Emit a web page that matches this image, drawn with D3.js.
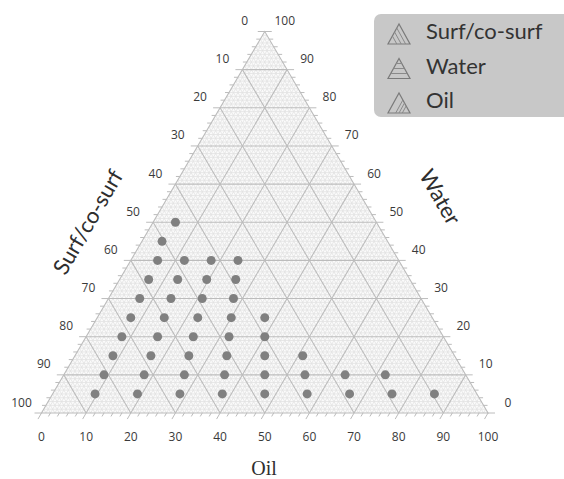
<!DOCTYPE html>
<html>
<head>
<meta charset="utf-8">
<style>
  body { margin: 0; padding: 0; background: #ffffff; }
  svg { display: block; }
  .tick-label { font-family: 'Open Sans', sans-serif; font-size: 12px; fill: #3a3a3a; text-anchor: middle; }
  .axis-title { font-family: Lato, sans-serif; font-size: 22px; fill: #2e2e2e; }
  .legend text { font-family: Lato, sans-serif; font-size: 22px; fill: #333333; }
</style>
</head>
<body>
<div id="chart"></div>
<script src="https://d3js.org/d3.v7.min.js"></script>
<script>

// measured points, one entry per dot (percent)
var waterValues = [5, 5, 5, 5, 5, 5, 5, 5, 5,
                   10, 10, 10, 10, 10, 10, 10, 10,
                   15, 15, 15, 15, 15, 15,
                   20, 20, 20, 20, 20,
                   25, 25, 25, 25, 25,
                   30, 30, 30, 30,
                   35, 35, 35, 35,
                   40, 40, 40, 40,
                   45,
                   50]
var oilValues = [9.5, 19, 28.5, 38, 47.5, 57, 66.5, 76, 85.5,
                 9, 18, 27, 36, 45, 54, 63, 72,
                 8.5, 17, 25.5, 34, 42.5, 51,
                 8, 16, 24, 32, 40,
                 7.5, 15, 22.5, 30, 37.5,
                 7, 14, 21, 28,
                 6.5, 13, 19.5, 26,
                 6, 12, 18, 24,
                 4.5,
                 5]
var surfValues = [85.5, 76, 66.5, 57, 47.5, 38, 28.5, 19, 9.5,
                  81, 72, 63, 54, 45, 36, 27, 18,
                  76.5, 68, 59.5, 51, 42.5, 34,
                  72, 64, 56, 48, 40,
                  67.5, 60, 52.5, 45, 37.5,
                  63, 56, 49, 42,
                  58.5, 52, 45.5, 39,
                  54, 48, 42, 36,
                  50.5,
                  45]

var tickValues = [0, 10, 20, 30, 40, 50, 60, 70, 80, 90, 100]
var axisTitles = ["Surf/co-surf", "Water", "Oil"]
var legendLabels = ["Surf/co-surf", "Water", "Oil"]

var width = 564,
    height = 479

// horizontal position uses oil + water/2, vertical uses water
var xScale = d3.scaleLinear().domain([0, 100]).range([41.5, 488])
var yScale = d3.scaleLinear().domain([0, 100]).range([413, 31.5])

// point from (water, oil)
function pt(water, oil) {
  return [xScale(oil + water / 2), yScale(water)]
}

var svg = d3.select("#chart").append("svg")
  .attr("width", width)
  .attr("height", height)

var line = d3.line()

// triangle background
svg.append("path")
  .attr("d", line([pt(0, 0), pt(100, 0), pt(0, 100)]) + "Z")
  .attr("fill", "#fbfbfb")

// grid lines, minor every 1, major every 10
var minor = svg.append("g").attr("stroke", "#e2e2e2").attr("stroke-width", 0.8).attr("fill", "none")
var major = svg.append("g").attr("stroke", "#bcbcbc").attr("stroke-width", 1.1).attr("fill", "none")

d3.range(1, 100).forEach(function (k) {
  var g = (k % 10 === 0) ? major : minor
  // constant water
  g.append("path").attr("d", line([pt(k, 0), pt(k, 100 - k)]))
  // constant oil
  g.append("path").attr("d", line([pt(0, k), pt(100 - k, k)]))
  // constant surf
  g.append("path").attr("d", line([pt(0, 100 - k), pt(100 - k, 0)]))
})

// outline
svg.append("path")
  .attr("d", line([pt(0, 0), pt(0, 100), pt(100, 0)]) + "Z")
  .attr("fill", "none")
  .attr("stroke", "#bcbcbc")
  .attr("stroke-width", 1.1)

// ticks every 2
var ticks = svg.append("g").attr("stroke", "#bcbcbc").attr("stroke-width", 1)
d3.range(0, 101, 2).forEach(function (k) {
  var len = (k % 10 === 0) ? 7 : 4
  // left edge (horizontal, outward left)
  var a = pt(k, 0)
  ticks.append("path").attr("d", line([a, [a[0] - len, a[1]]]))
  // right edge (horizontal, outward right)
  var b = pt(k, 100 - k)
  ticks.append("path").attr("d", line([b, [b[0] + len, b[1]]]))
  // base (down-left)
  var c = pt(0, k)
  ticks.append("path").attr("d", line([c, [c[0] - len * 0.5, c[1] + len * 0.866]]))
})

// tick labels
var labels = svg.append("g").attr("class", "tick-label")

// bottom: oil
labels.selectAll(".oil").data(tickValues).enter().append("text")
  .attr("x", function (d) { return pt(0, d)[0] })
  .attr("y", 441)
  .text(function (d) { return d })

// left: surf (surf = 100 - water on the left edge)
labels.selectAll(".surf").data(tickValues).enter().append("text")
  .attr("x", function (d) { return pt(100 - d, 0)[0] - 20 })
  .attr("y", function (d) { return pt(100 - d, 0)[1] - 6.5 })
  .text(function (d) { return d })

// right: water
labels.selectAll(".water").data(tickValues).enter().append("text")
  .attr("x", function (d) { return pt(d, 100 - d)[0] + 20 })
  .attr("y", function (d) { return pt(d, 100 - d)[1] - 6.5 })
  .text(function (d) { return d })

// axis titles
svg.append("text")
  .attr("class", "axis-title")
  .attr("transform", "translate(88,222) rotate(-60)")
  .attr("text-anchor", "middle")
  .attr("dy", "0.35em")
  .text(axisTitles[0])

svg.append("text")
  .attr("class", "axis-title")
  .attr("transform", "translate(440,197) rotate(60)")
  .attr("text-anchor", "middle")
  .attr("dy", "0.35em")
  .text(axisTitles[1])

svg.append("text")
  .attr("x", 264)
  .attr("y", 475)
  .attr("text-anchor", "middle")
  .style("font-family", "'Liberation Serif', serif")
  .style("font-size", "20px")
  .style("fill", "#2e2e2e")
  .text(axisTitles[2])

// data points
svg.append("g")
  .selectAll("circle")
  .data(d3.range(waterValues.length))
  .enter().append("circle")
  .attr("cx", function (i) { return pt(waterValues[i], oilValues[i])[0] })
  .attr("cy", function (i) { return pt(waterValues[i], oilValues[i])[1] })
  .attr("r", 4.5)
  .attr("fill", "#808080")

// legend
var legend = svg.append("g").attr("class", "legend")
legend.append("rect")
  .attr("x", 374).attr("y", 14)
  .attr("width", 210).attr("height", 103)
  .attr("rx", 7)
  .attr("fill", "#c8c8c8")

var rows = legend.selectAll("g.row")
  .data(legendLabels)
  .enter().append("g")
  .attr("class", "row")
  .attr("transform", function (d, i) { return "translate(0," + (i * 34.5) + ")" })

rows.append("text")
  .attr("x", 426)
  .attr("y", 39)
  .text(function (d) { return d })

// small triangle icons with hatching for each axis
var iconL = [388, 44], iconR = [410, 44], iconT = [399, 24]
function lerp(p, q, t) { return [p[0] + (q[0] - p[0]) * t, p[1] + (q[1] - p[1]) * t] }

rows.append("path")
  .attr("d", line([iconL, iconR, iconT]) + "Z")
  .attr("fill", "none")
  .attr("stroke", "#7a7a7a")
  .attr("stroke-width", 1.2)

rows.each(function (d, i) {
  var row = d3.select(this)
  ;[0.25, 0.5, 0.75].forEach(function (t) {
    var seg
    if (i === 0) seg = [lerp(iconR, iconL, t * 0.8), lerp(iconT, iconL, t * 0.8)]       // parallel to right edge
    else if (i === 1) seg = [lerp(iconL, iconT, t), lerp(iconR, iconT, t)]             // horizontal
    else seg = [lerp(iconL, iconR, 0.2 + t * 0.6), lerp(iconT, iconR, 0.2 + t * 0.6)]  // parallel to left edge
    row.append("path")
      .attr("d", line(seg))
      .attr("stroke", "#8a8a8a")
      .attr("stroke-width", 1)
  })
})

</script>
</body>
</html>
